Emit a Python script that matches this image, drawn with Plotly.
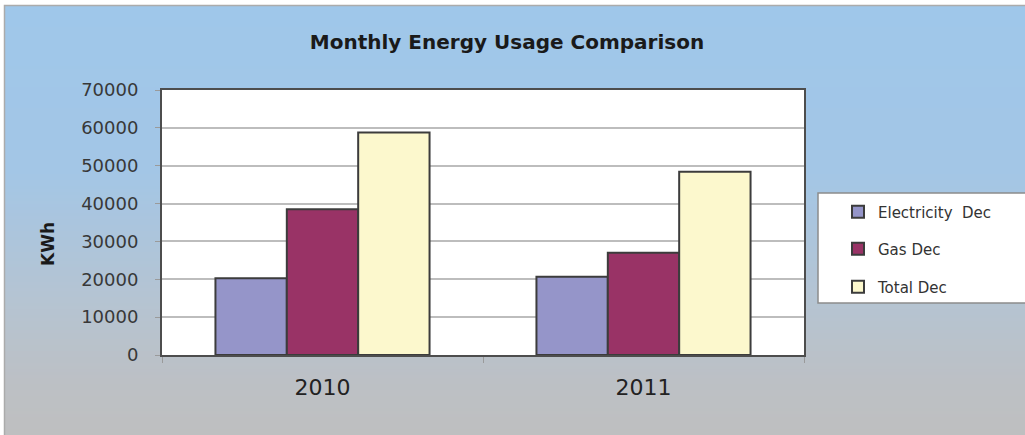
import plotly.graph_objects as go

# data
years = ['2010', '2011']
electricity_dec = [20300, 20700]
gas_dec = [38500, 27000]
total_dec = [58800, 48400]
y_ticks = [0, 10000, 20000, 30000, 40000, 50000, 60000, 70000]

W, H = 1025, 435
L, R, T, B = 162, 221, 90, 80
PW, PH = W - L - R, H - T - B
FONT = 'DejaVu Sans'


# screen pixel -> paper coords
def px_x(px):
    return (px - L) / PW


def px_y(py):
    return (H - B - py) / PH


def hex2rgb(h):
    h = h.lstrip('#')
    return [int(h[i:i + 2], 16) for i in (0, 2, 4)]


# background gradient stops (pixel y, colour)
grad_stops = [(6, '#9fc7ea'), (170, '#a3c6e6'), (300, '#b5c4d2'),
              (380, '#bcc0c5'), (445, '#bfbfbf')]


def grad_color(py):
    for (y0, c0), (y1, c1) in zip(grad_stops[:-1], grad_stops[1:]):
        if y0 <= py <= y1:
            t = (py - y0) / (y1 - y0)
            a, b = hex2rgb(c0), hex2rgb(c1)
            return 'rgb(%d,%d,%d)' % tuple(round(a[i] + (b[i] - a[i]) * t) for i in range(3))
    return grad_stops[-1][1]


shapes = []
step = 3
for py in range(6, H + 10, step):
    shapes.append(dict(type='rect', xref='paper', yref='paper', layer='below',
                       x0=px_x(5), x1=px_x(W + 20), y0=px_y(py + step + 0.5), y1=px_y(py),
                       fillcolor=grad_color(py + step / 2), line=dict(width=0)))

# outer frame
shapes.append(dict(type='rect', xref='paper', yref='paper', layer='below',
                   x0=px_x(4.5), x1=px_x(W + 20), y0=px_y(H + 20), y1=px_y(5.5),
                   fillcolor='rgba(0,0,0,0)', line=dict(color='#ababab', width=1.5)))
# white plot area
shapes.append(dict(type='rect', xref='paper', yref='paper', layer='below',
                   x0=0, x1=1, y0=0, y1=1, fillcolor='white', line=dict(width=0)))
# legend box
shapes.append(dict(type='rect', xref='paper', yref='paper', layer='below',
                   x0=px_x(818), x1=px_x(W + 20), y0=px_y(303), y1=px_y(193),
                   fillcolor='white', line=dict(color='#8c8c8c', width=1.5)))

fig = go.Figure()
series = [
    ('Electricity  Dec', electricity_dec, '#9595c9', 'legend'),
    ('Gas Dec', gas_dec, '#993366', 'legend2'),
    ('Total Dec', total_dec, '#fcf8cd', 'legend3'),
]
for name, vals, color, leg in series:
    fig.add_trace(go.Bar(
        x=years, y=vals, name=name, legend=leg,
        marker=dict(color=color, line=dict(color='#3c3c3c', width=2))
    ))

legend_y = {'legend': 212, 'legend2': 249, 'legend3': 287}
legends = {}
for key, py in legend_y.items():
    legends[key] = dict(x=px_x(838), xanchor='left', y=px_y(py), yanchor='middle',
                        bgcolor='rgba(0,0,0,0)', borderwidth=0,
                        font=dict(family=FONT, size=15, color='#333333'))

fig.update_layout(
    width=W, height=H,
    margin=dict(l=L, r=R, t=T, b=B, pad=0),
    paper_bgcolor='white',
    plot_bgcolor='white',
    barmode='group',
    bargap=0.333,
    bargroupgap=0,
    title=dict(text='<b>Monthly Energy Usage Comparison</b>',
               x=507 / W, xref='container', xanchor='center',
               y=1 - 42 / H, yref='container', yanchor='middle',
               font=dict(family=FONT, size=20, color='#1a1a1a')),
    shapes=shapes,
    showlegend=True,
    **legends,
    annotations=[dict(text='<b>KWh</b>', x=px_x(48), y=px_y(244), xref='paper', yref='paper',
                      xanchor='center', yanchor='middle',
                      showarrow=False, textangle=-90,
                      font=dict(family=FONT, size=17, color='#1a1a1a'))],
)

fig.update_xaxes(
    showgrid=False, showline=True, mirror=True, linecolor='#4d4d4d', linewidth=2,
    ticks='outside', tickson='boundaries', ticklen=6, tickcolor='#9a9a9a',
    tickfont=dict(family=FONT, size=22, color='#222222'), ticklabelstandoff=12,
)
fig.update_yaxes(
    range=[0, 70000], tickvals=y_ticks, tickformat='d',
    showgrid=True, gridcolor='#bdbdbd', gridwidth=2, zeroline=False,
    showline=True, mirror=True, linecolor='#4d4d4d', linewidth=2,
    ticks='outside', ticklen=5, tickcolor='#9a9a9a',
    tickfont=dict(family=FONT, size=18, color='#383838'), ticklabelstandoff=13,
)

# drop the default page margin so the figure fills the window
fig.write_html("out.html", config={'displayModeBar': False},
               post_script="document.body.style.margin='0';document.body.style.overflow='hidden';")
